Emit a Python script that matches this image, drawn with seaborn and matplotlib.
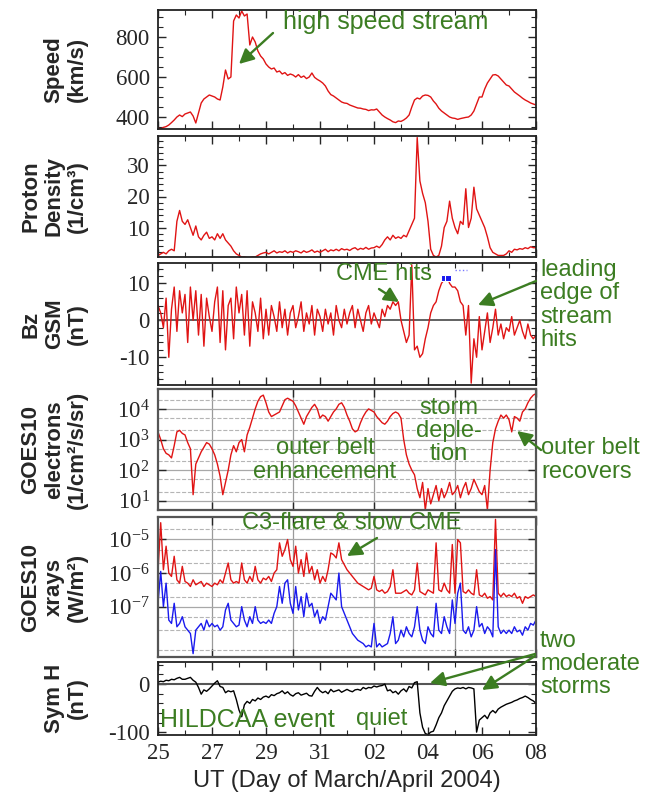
import numpy as np
import pandas as pd
import matplotlib
matplotlib.use("Agg")
import matplotlib.pyplot as plt
import matplotlib.ticker as mticker
import seaborn as sns

# ---------------- data ----------------
days = np.round(np.arange(25.0, 39.01, 0.1), 1)   # sample times, day of March (32 = Apr 1)

speed = [345, 340, 348, 352, 360, 372, 385, 400, 410, 402,
         415, 420, 425, 405, 370, 420, 470, 490, 500, 510,
         505, 500, 490, 485, 550, 635, 590, 600, 880, 910,
         895, 930, 905, 915, 760, 800, 775, 730, 705, 690,
         665, 650, 640, 645, 625, 630, 615, 622, 608, 615,
         610, 600, 612, 598, 605, 592, 600, 620, 598, 588,
         580, 570, 555, 530, 512, 505, 495, 485, 475, 470,
         468, 460, 455, 450, 445, 444, 440, 438, 432, 436,
         435, 440, 425, 410, 400, 392, 385, 376, 372, 380,
         378, 385, 395, 410, 450, 485, 495, 490, 505, 510,
         508, 500, 480, 465, 444, 430, 420, 410, 400, 395,
         393, 388, 392, 395, 398, 400, 410, 430, 465, 500,
         500, 540, 570, 590, 610, 612, 605, 590, 575, 560,
         555, 540, 525, 515, 505, 494, 485, 478, 470, 465,
         460]

density = [1.0, 1.5, 2.0, 1.5, 2.5, 3.0, 2.5, 12.0, 15.5, 12.0,
           11.0, 12.5, 10.0, 7.5, 10.5, 7.0, 6.0, 7.5, 8.5, 6.5,
           7.0, 6.0, 8.0, 6.5, 8.0, 6.0, 5.0, 4.0, 2.5, 1.5,
           1.0, 0.5, 0.5, 0.3, 0.3, 0.5, 0.5, 1.0, 1.5, 1.8,
           2.0, 1.5, 2.0, 2.5, 1.8, 2.2, 2.0, 2.5, 1.8, 2.3,
           2.0, 2.5, 2.2, 1.8, 2.5, 2.0, 2.3, 2.8, 2.0, 2.4,
           2.0, 2.5, 3.0, 2.2, 2.8, 2.5, 3.0, 2.5, 3.2, 2.8,
           3.0, 2.6, 3.2, 3.5, 2.8, 3.3, 3.0, 3.6, 3.0, 3.4,
           3.5, 4.0, 3.5, 4.5, 6.0, 7.0, 6.0, 7.5, 6.5, 7.0,
           6.5, 7.5, 7.0, 9.0, 11.0, 13.0, 39.0, 25.0, 21.0, 18.0,
           12.0, 3.0, 1.0, 0.5, 1.0, 4.0, 10.0, 12.0, 18.5, 13.0,
           10.0, 8.0, 12.0, 11.0, 22.5, 10.0, 13.0, 23.0, 16.0, 14.0,
           12.0, 10.0, 7.0, 3.5, 2.0, 1.5, 1.0, 1.0, 1.0, 1.5,
           2.5, 2.0, 3.0, 2.8, 3.2, 3.0, 3.5, 3.2, 3.8, 3.5,
           3.5]

bz = [4, 2, -2, 6, -10, 3, 9, -3, 8, 2,
      7, -6, 9, 0, 8, -4, 7, -7, 6, 1,
      -3, 5, 9, -6, 8, -8, 4, 6, -5, 9,
      2, 7, -4, 8, -7, 5, 2, -3, 6, -5,
      3, -4, 4, 1, -3, 5, -2, 3, -4, 2,
      4, -2, 1, 5, -3, 2, -1, 4, -4, 3,
      1, -3, 3, -1, 2, -4, 4, 0, -2, 3,
      -1, 2, 4, -2, 3, 0, -3, 2, 4, -1,
      2, 0, -2, 3, 1, 4, 3, 5, 4, 5,
      0, -3, -6, -4, 15, -8, -7, -10, -9, -5,
      -2, 2, 4, 5, 8, 10, 11, 12, 10, 9,
      9, 8, 5, 4, -4, 4, -17, -5, -10, 1,
      -8, -3, 2, -6, -2, 3, -4, -1, -5, -2,
      -3, 1, -4, -2, 0, -3, -5, -1, -4, -5,
      -4]

bz_blue_days = [35.6, 35.75]
bz_blue = [11.5, 11.5]
bz_dot_days = [36.0, 36.15, 36.3, 36.45]
bz_dot = [13.5, 13.5, 13.5, 13.5]

electrons_exp = [3.25, 3.0, 2.7, 2.55, 2.5, 2.4, 2.8, 3.25, 3.3, 3.2,
                 3.15, 2.9, 2.7, 1.2, 2.2, 2.4, 2.6, 2.75, 2.9, 2.85,
                 2.7, 2.5, 2.2, 1.8, 1.2, 1.6, 2.0, 2.5, 2.8, 2.6,
                 2.9, 3.0, 2.6, 3.15, 3.4, 3.7, 4.0, 4.25, 4.4, 4.45,
                 4.2, 3.9, 3.75, 3.8, 3.85, 3.9, 4.1, 4.3, 4.35, 4.3,
                 4.25, 4.1, 3.9, 3.7, 3.5, 3.75, 3.9, 4.05, 4.15, 4.0,
                 3.7, 3.8, 3.75, 3.6, 3.75, 3.9, 4.0, 4.15, 4.2, 4.05,
                 3.8, 3.6, 3.35, 3.25, 3.3, 3.55, 3.75, 3.9, 4.0, 3.95,
                 3.9, 3.75, 3.65, 3.55, 3.5, 3.6, 3.75, 3.85, 3.9, 3.85,
                 3.7, 3.0, 2.5, 2.2, 2.0, 1.85, 1.4, 1.1, 1.6, 0.7,
                 1.4, 0.9, 1.2, 1.5, 1.0, 1.4, 1.1, 1.3, 1.6, 1.2,
                 1.3, 1.5, 1.1, 1.4, 1.6, 1.2, 1.4, 1.7, 1.5, 1.3,
                 1.2, 1.5, 0.7, 2.0, 2.9, 3.35, 3.6, 3.8, 3.7, 3.8,
                 3.65, 3.25, 3.75, 3.7, 3.6, 3.9, 4.0, 4.2, 4.35, 4.45,
                 4.5]

xray_long_exp = [-5.95, -4.5, -5.9, -5.2, -6.0, -6.1, -5.5, -6.2, -6.3, -5.8,
                 -6.25, -6.3, -6.4, -6.2, -6.35, -6.3, -6.25, -6.4, -6.3, -6.35,
                 -6.4, -6.3, -6.35, -6.2, -6.3, -6.0, -5.7, -6.2, -6.3, -6.25,
                 -6.3, -5.7, -6.2, -6.3, -6.1, -6.25, -5.8, -6.2, -6.3, -6.15,
                 -6.2, -6.1, -6.25, -6.0, -5.9, -5.1, -5.5, -5.3, -5.0, -5.6,
                 -5.8, -5.2, -6.0, -5.6, -6.1, -5.4, -6.0, -5.8, -6.2, -5.9,
                 -6.3, -6.1, -6.25, -5.9, -5.4, -5.45, -5.55, -5.1, -5.6, -5.75,
                 -5.9, -6.0, -6.1, -6.2, -6.3, -6.35, -6.4, -6.45, -6.5, -6.45,
                 -6.1, -6.5, -6.55, -6.5, -6.6, -6.55, -6.4, -5.9, -6.6, -6.6,
                 -6.6, -6.55, -6.5, -6.6, -6.65, -6.5, -5.7, -6.55, -6.6, -6.65,
                 -6.5, -6.55, -6.6, -5.1, -6.5, -6.55, -6.3, -6.5, -6.6, -5.15,
                 -6.6, -5.0, -5.1, -6.55, -6.6, -6.5, -6.6, -6.65, -5.9, -6.65,
                 -6.7, -6.6, -6.75, -6.7, -6.8, -4.4, -6.6, -6.7, -6.6, -6.7,
                 -6.65, -6.7, -6.6, -6.75, -6.7, -6.9, -6.7, -6.75, -6.7, -6.65,
                 -6.7]

xray_short_exp = [-6.9, -5.95, -7.0, -6.3, -7.4, -7.5, -6.9, -7.6, -7.5, -7.3,
                  -7.6, -7.7, -7.8, -8.4, -7.7, -7.6, -7.5, -7.7, -7.4, -7.6,
                  -7.5, -7.6, -7.55, -7.7, -7.6, -7.1, -6.9, -7.4, -7.5, -7.6,
                  -7.55, -7.0, -7.4, -7.6, -7.3, -7.5, -7.0, -7.4, -7.5, -7.45,
                  -7.5, -7.4, -7.5, -7.2, -7.0, -6.4, -6.9, -6.3, -6.2, -6.9,
                  -7.2, -6.4, -7.1, -6.7, -7.3, -6.6, -7.0, -6.9, -7.3, -7.1,
                  -7.5, -7.3, -7.4, -7.0, -6.6, -6.7, -6.8, -6.0, -7.0, -7.2,
                  -7.4, -7.6, -7.8, -7.9, -8.0, -8.05, -8.1, -8.2, -8.15, -8.2,
                  -7.5, -8.2, -8.1, -8.2, -8.15, -8.1, -7.8, -7.3, -8.1, -8.0,
                  -7.7, -7.9, -7.6, -7.8, -7.9, -7.6, -7.0, -7.7, -8.0, -8.1,
                  -7.6, -7.8, -7.9, -6.9, -7.7, -7.8, -7.3, -7.6, -7.8, -6.8,
                  -7.5, -6.6, -6.3, -7.7, -7.8, -7.6, -7.9, -7.7, -7.0, -7.6,
                  -7.5, -7.8, -7.6, -7.7, -7.9, -5.3, -7.6, -7.8, -7.7, -7.8,
                  -7.7, -7.8, -7.6, -7.75, -7.7, -7.85, -7.6, -7.7, -7.5, -7.55,
                  -7.4]

symh = [4, 6, 5, 8, 7, 10, 9, 12, 14, 10,
        10, 12, 14, 8, 4, -7, -21, -12, -15, -10,
        -4, 2, 7, -5, -7, -18, -14, -16, -14, -32,
        -54, -68, -43, -36, -40, -32, -35, -29, -32, -27,
        -25, -28, -22, -24, -20, -18, -14, -20, -16, -22,
        -25, -20, -18, -23, -21, -19, -24, -25, -15, -7,
        -14, -18, -15, -20, -11, -16, -14, -12, -17, -14,
        -11, -14, -16, -12, -11, -13, -7, -10, -7, -8,
        -4, -6, -4, -3, 0, -14, -12, -18, -15, -21,
        -14, -10, -16, -5, -8, 3, 5, -60, -90, -103,
        -105, -100, -98, -85, -70, -60, -45, -35, -25, -15,
        -10, -8, -9, -7, -10, -7, -8, -10, -100, -75,
        -70, -65, -72, -60, -55, -60, -52, -48, -45, -42,
        -40, -38, -35, -33, -30, -28, -25, -28, -32, -35,
        -40]

xtick_pos = [25, 27, 29, 31, 33, 35, 37, 39]
xtick_labels = ["25", "27", "29", "31", "02", "04", "06", "08"]
speed_ticks = [400, 600, 800]
density_ticks = [10, 20, 30]
bz_ticks = [-10, 0, 10]
xray_ticks = [1e-7, 1e-6, 1e-5]
symh_ticks = [-100, 0]

# ---------------- style ----------------
sns.set_style("ticks")
plt.rcParams["font.family"] = ["Liberation Sans", "DejaVu Sans"]
plt.rcParams["mathtext.fontset"] = "custom"
plt.rcParams["mathtext.rm"] = "Liberation Serif"
plt.rcParams["mathtext.it"] = "Liberation Serif:italic"
plt.rcParams["mathtext.bf"] = "Liberation Serif:bold"
plt.rcParams["axes.unicode_minus"] = False

RED = "#e01414"
BLUE = "#1a1aee"
GREEN = "#3c7d22"
TICK_SIZE = 16.5
TICKFONT = {"family": "Liberation Serif", "size": TICK_SIZE}

df = pd.DataFrame({
    "day": days, "speed": speed, "density": density, "bz": bz,
    "electrons": 10.0 ** np.array(electrons_exp),
    "xlong": 10.0 ** np.array(xray_long_exp),
    "xshort": 10.0 ** np.array(xray_short_exp),
    "symh": symh,
})

fig = plt.figure(figsize=(6.51, 8.0), dpi=100)
L, W = 158 / 651, 378 / 651


def box(top, bot):
    return [L, 1 - bot / 800, W, (bot - top) / 800]


ax1 = fig.add_axes(box(10, 129))
ax2 = fig.add_axes(box(136, 257))
ax3 = fig.add_axes(box(263, 385))
ax4 = fig.add_axes(box(389, 510))
ax5 = fig.add_axes(box(517, 657))
ax6 = fig.add_axes(box(662, 735))
axes = [ax1, ax2, ax3, ax4, ax5, ax6]

kw = dict(estimator=None, sort=False, legend=False)
sns.lineplot(data=df, x="day", y="speed", ax=ax1, color=RED, lw=1.0, **kw)
sns.lineplot(data=df, x="day", y="density", ax=ax2, color=RED, lw=1.0, **kw)
ax3.axhline(0, color="#555555", lw=1.3, zorder=1)
sns.lineplot(data=df, x="day", y="bz", ax=ax3, color=RED, lw=1.0, **kw)
sns.lineplot(x=bz_blue_days, y=bz_blue, ax=ax3, color=BLUE, lw=2.5,
             marker="s", markersize=5, **kw)
sns.lineplot(x=bz_dot_days, y=bz_dot, ax=ax3, color="#7777ff", lw=1.0,
             linestyle=":", **kw)
sns.lineplot(data=df, x="day", y="electrons", ax=ax4, color=RED, lw=1.0, **kw)
sns.lineplot(data=df, x="day", y="xlong", ax=ax5, color=RED, lw=1.0, **kw)
sns.lineplot(data=df, x="day", y="xshort", ax=ax5, color=BLUE, lw=1.0, **kw)
ax6.axhline(0, color="#555555", lw=1.5, zorder=1)
sns.lineplot(data=df, x="day", y="symh", ax=ax6, color="black", lw=1.0, **kw)

ax4.set_yscale("log")
ax5.set_yscale("log")

ax1.set_ylim(340, 935)
ax2.set_ylim(0.5, 39.5)
ax3.set_ylim(-17.5, 15.5)
ax4.set_ylim(10 ** 0.7, 10 ** 4.65)
ax5.set_ylim(10 ** -8.5, 10 ** -4.33)
ax6.set_ylim(-106, 46)

for ax in axes:
    ax.set_xlim(25, 39)
    ax.set_xlabel("")
    ax.tick_params(which="both", direction="in", top=True, right=True,
                   labelbottom=False, pad=6)
    ax.tick_params(which="major", length=6, width=1.0)
    ax.tick_params(which="minor", length=3.5, width=0.8)
    for sp in ax.spines.values():
        sp.set_linewidth(1.3)
        sp.set_color("#222222")

for ax in [ax1, ax2, ax3, ax6]:
    ax.xaxis.set_major_locator(mticker.FixedLocator(xtick_pos))
    ax.xaxis.set_minor_locator(mticker.MultipleLocator(1))

for ax in [ax4, ax5]:
    ax.xaxis.set_major_locator(mticker.MultipleLocator(3))
    ax.xaxis.set_minor_locator(mticker.NullLocator())
    ax.grid(True, axis="x", which="major", color="#9a9a9a", lw=0.9)
    ax.yaxis.set_minor_locator(mticker.LogLocator(base=10, subs=(2.0, 5.0), numticks=20))
    ax.yaxis.set_minor_formatter(mticker.NullFormatter())
    ax.grid(True, axis="y", which="major", color="#a8a8a8", lw=0.9)
    ax.grid(True, axis="y", which="minor", color="#b5b5b5", lw=0.8, ls="--")
    ax.tick_params(which="minor", length=0)
    for sp in ax.spines.values():
        sp.set_linewidth(1.6)
        sp.set_color("#555555")

ax1.yaxis.set_major_locator(mticker.FixedLocator(speed_ticks))
ax1.yaxis.set_minor_locator(mticker.MultipleLocator(50))
ax2.yaxis.set_major_locator(mticker.FixedLocator(density_ticks))
ax2.yaxis.set_minor_locator(mticker.MultipleLocator(2))
ax3.yaxis.set_major_locator(mticker.FixedLocator(bz_ticks))
ax3.yaxis.set_minor_locator(mticker.MultipleLocator(2))
ax4.yaxis.set_major_locator(mticker.LogLocator(base=10, numticks=10))
ax4.yaxis.set_major_formatter(mticker.LogFormatterSciNotation())
ax5.yaxis.set_major_locator(mticker.FixedLocator(xray_ticks))
ax5.yaxis.set_major_formatter(mticker.LogFormatterSciNotation())
ax6.yaxis.set_major_locator(mticker.FixedLocator(symh_ticks))
ax6.yaxis.set_minor_locator(mticker.MultipleLocator(20))

for ax in axes:
    ax.tick_params(axis="y", labelsize=TICK_SIZE)
    for lab in ax.get_yticklabels():
        lab.set_fontfamily("Liberation Serif")

ax6.set_xticks(xtick_pos)
ax6.set_xticklabels(xtick_labels, fontdict=TICKFONT)
ax6.tick_params(axis="x", labelbottom=True, pad=6)
ax6.set_xlabel("UT (Day of March/April 2004)", fontsize=17, labelpad=4)

ylabels = ["Speed\n(km/s)", "Proton\nDensity\n(1/cm³)", "Bz\nGSM\n(nT)",
           "GOES10\nelectrons\n(1/cm²/s/sr)", "GOES10\nxrays\n(W/m²)", "Sym H\n(nT)"]
for ax, lab in zip(axes, ylabels):
    ax.set_ylabel(lab, fontsize=16, fontweight="bold", linespacing=1.15)
    ax.yaxis.set_label_coords(-0.185, 0.5)

# ---------------- annotations (pixel overlay) ----------------
ov = fig.add_axes([0, 0, 1, 1], zorder=20)
ov.set_xlim(0, 651)
ov.set_ylim(800, 0)
ov.axis("off")
ov.patch.set_alpha(0)

tkw = dict(color=GREEN, fontsize=17, linespacing=1.08)
akw = dict(arrowstyle="-|>", color=GREEN, lw=1.7, mutation_scale=22, shrinkA=0, shrinkB=0)


def note(x, y, s, ha="left", va="center", **extra):
    ov.text(x, y, s, ha=ha, va=va, multialignment="left" if ha == "left" else "center",
            **{**tkw, **extra})


def arrow(x0, y0, x1, y1):
    ov.annotate("", xy=(x1, y1), xytext=(x0, y0), arrowprops=akw)


note(283, 22, "high speed stream", fontsize=18)
arrow(273, 33, 239, 64)
note(336, 274, "CME hits")
arrow(379, 289, 399, 302)
note(540, 305, "leading\nedge of\nstream\nhits")
arrow(536, 281, 478, 305)
note(325, 460, "outer belt\nenhancement", ha="center")
note(449, 431, "storm\ndeple-\ntion", ha="center")
note(541, 460, "outer belt\nrecovers")
arrow(541, 450, 517, 431)
note(242, 523, "C3-flare & slow CME")
arrow(377, 538, 347, 556)
note(540, 664, "two\nmoderate\nstorms")
arrow(535, 654, 430, 683)
arrow(535, 656, 482, 690)
note(160, 720, "HILDCAA event", fontsize=18)
note(356, 719, "quiet")

fig.savefig("out.png", dpi=100)
